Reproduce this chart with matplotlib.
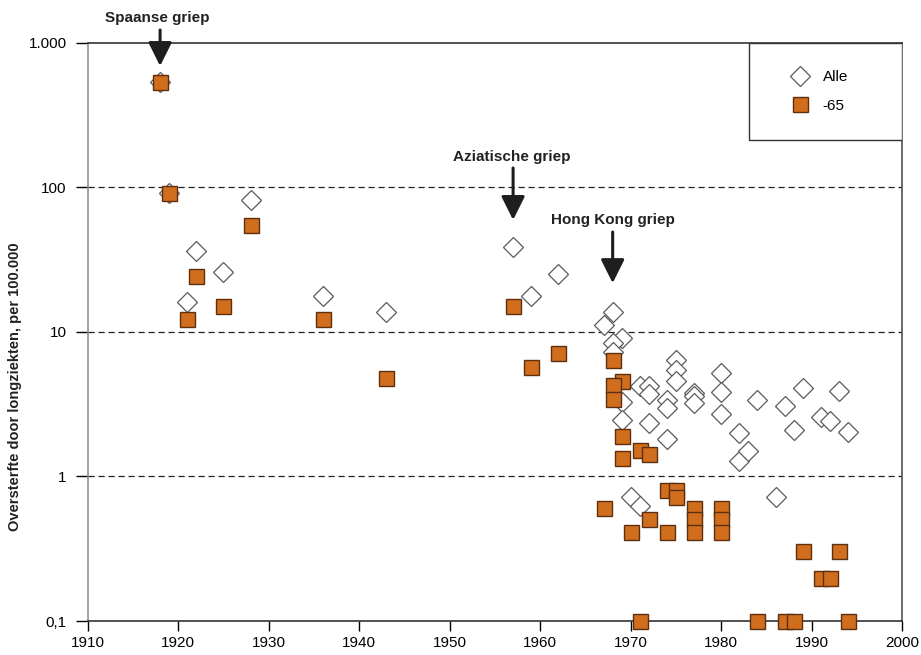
import matplotlib.pyplot as plt
from matplotlib.patches import Rectangle

alle_jaar = [1918, 1919, 1921, 1922, 1925, 1928, 1936, 1943, 1957, 1959, 1962,
             1967, 1968, 1969, 1968, 1968, 1969, 1969, 1970, 1971, 1971, 1972,
             1972, 1972, 1974, 1974, 1974, 1975, 1975, 1975, 1977, 1977, 1977,
             1980, 1980, 1980, 1982, 1982, 1983, 1984, 1986, 1987, 1988, 1989,
             1991, 1992, 1993, 1994]
alle_waarde = [540, 92, 16, 36.5, 26, 82, 17.7, 13.7, 38.7, 17.7, 25,
               11.2, 13.8, 9.1, 8.4, 7.3, 3.3, 2.46, 0.72, 0.62, 4.2, 4.2,
               3.72, 2.33, 3.38, 3.0, 1.82, 6.4, 5.46, 4.6, 3.77, 3.6, 3.24,
               5.2, 3.87, 2.71, 2.0, 1.28, 1.5, 3.38, 0.72, 3.09, 2.1, 4.07,
               2.6, 2.42, 3.9, 2.04]

min65_jaar = [1918, 1919, 1921, 1922, 1925, 1928, 1936, 1943, 1957, 1959, 1962,
              1967, 1968, 1969, 1968, 1968, 1969, 1969, 1971, 1972, 1970, 1972,
              1974, 1974, 1975, 1975, 1977, 1977, 1977, 1980, 1980, 1980, 1971,
              1984, 1987, 1988, 1989, 1993, 1991, 1992, 1994]
min65_waarde = [540, 92, 12.3, 24.4, 15.1, 55, 12.3, 4.8, 15.1, 5.7, 7.2,
                0.61, 6.4, 4.6, 4.3, 3.44, 1.9, 1.34, 1.52, 1.43, 0.41, 0.51,
                0.41, 0.81, 0.81, 0.72, 0.61, 0.51, 0.41, 0.61, 0.51, 0.41, 0.1,
                0.1, 0.1, 0.1, 0.305, 0.305, 0.2, 0.2, 0.1]

x_ticks = [1910, 1920, 1930, 1940, 1950, 1960, 1970, 1980, 1990, 2000]
y_ticks = [0.1, 1, 10, 100, 1000]
y_labels = ["0,1", "1", "10", "100", "1.000"]

oranje = "#d06e1e"
bruin = "#5e2f0e"

plt.rcParams['font.family'] = ['Liberation Sans', 'DejaVu Sans']

fig = plt.figure(figsize=(9.21, 6.55), dpi=100)
ax = fig.add_axes([0.0952, 0.0519, 0.8845, 0.8825])

ax.plot(alle_jaar, alle_waarde, linestyle="none", marker="D", markersize=10,
        markerfacecolor="white", markeredgecolor="#5a5a5a", markeredgewidth=0.9,
        clip_on=False, zorder=3)
ax.plot(min65_jaar, min65_waarde, linestyle="none", marker="s", markersize=10.8,
        markerfacecolor=oranje, markeredgecolor=bruin, markeredgewidth=1.0,
        clip_on=False, zorder=4)

ax.set_yscale("log")
ax.set_xlim(1910, 2000)
ax.set_ylim(0.1, 1000)
ax.set_xticks(x_ticks)
ax.set_yticks(y_ticks)
ax.set_yticklabels(y_labels)
ax.minorticks_off()
ax.tick_params(axis="x", direction="out", length=7, width=1, labelsize=11, pad=4)
ax.tick_params(axis="y", direction="out", length=9, width=1, labelsize=11, pad=6)

for v in [1, 10, 100]:
    ax.axhline(v, color="#222222", lw=0.9, ls=(0, (5, 3)), zorder=1)

ax.spines["left"].set_color("#8a8a8a")
ax.spines["right"].set_color("#444444")
ax.spines["top"].set_color("#222222")
ax.spines["bottom"].set_color("#222222")
for s in ax.spines.values():
    s.set_linewidth(1.1)

# legenda
ax.add_patch(Rectangle((0.812, 0.832), 0.188, 0.168, transform=ax.transAxes,
                       facecolor="white", edgecolor="#333333", lw=1.0, zorder=5))
leg = ax.legend(["Alle", "-65"], loc="center", bbox_to_anchor=(0.898, 0.916),
                frameon=False, fontsize=11, handlelength=1.2, handletextpad=0.9,
                labelspacing=0.95)
leg.set_zorder(6)

pijl = dict(arrowstyle="-|>,head_length=0.4,head_width=0.2", lw=2.2,
            color="#1e1e1e", mutation_scale=36, shrinkA=0, shrinkB=0)
ax.annotate("", xy=(1918, 693), xytext=(1918, 1230), arrowprops=pijl,
            annotation_clip=False)
ax.text(1917.7, 1489, "Spaanse griep", ha="center", va="center",
        fontsize=11, fontweight="bold", color="#222222", clip_on=False)
ax.annotate("", xy=(1957, 59.6), xytext=(1957, 136.5), arrowprops=pijl)
ax.text(1956.9, 162.6, "Aziatische griep", ha="center", va="center",
        fontsize=11, fontweight="bold", color="#222222")
ax.annotate("", xy=(1968, 21.8), xytext=(1968, 49.2), arrowprops=pijl)
ax.text(1968, 59.6, "Hong Kong griep", ha="center", va="center",
        fontsize=11, fontweight="bold", color="#222222")

fig.text(0.016, 0.41, "Oversterfte door longziekten, per 100.000", rotation=90,
         ha="center", va="center", fontsize=10.5, fontweight="bold", color="#222222")

fig.savefig("out.png", dpi=100)
